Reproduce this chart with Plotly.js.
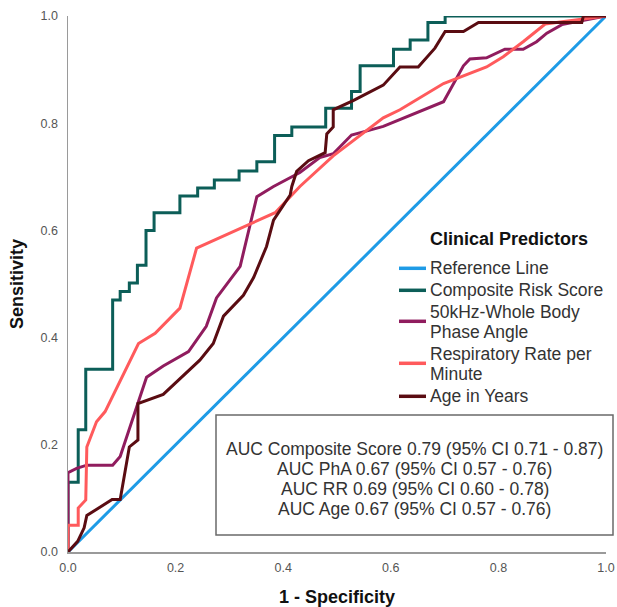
<!DOCTYPE html>
<html>
<head>
<meta charset="utf-8">
<script src="https://cdn.plot.ly/plotly-3.0.1.min.js"></script>
<style>html,body{margin:0;padding:0;background:#fff;}#chart{width:617px;height:607px;}</style>
</head>
<body>
<div id="chart"></div>
<script>
// Reference line
const refX = [0, 1];
const refY = [0, 1];

// Composite Risk Score
const compX = [0,0,0.019,0.019,0.033,0.033,0.083,0.083,0.097,0.097,0.114,0.114,0.129,0.129,0.145,0.145,0.160,0.160,0.208,0.208,0.241,0.241,0.272,0.272,0.318,0.318,0.351,0.351,0.384,0.384,0.416,0.416,0.479,0.479,0.527,0.527,0.543,0.543,0.605,0.605,0.636,0.636,0.669,0.669,0.701,0.701,1];
const compY = [0,0.13,0.13,0.228,0.228,0.341,0.341,0.47,0.47,0.486,0.486,0.502,0.502,0.535,0.535,0.60,0.60,0.633,0.633,0.664,0.664,0.679,0.679,0.694,0.694,0.711,0.711,0.728,0.728,0.777,0.777,0.793,0.793,0.828,0.828,0.859,0.859,0.907,0.907,0.938,0.938,0.955,0.955,0.988,0.988,1.0,1.0];

// 50kHz-Whole Body Phase Angle
const phaX = [0,0,0.016,0.035,0.083,0.097,0.146,0.177,0.224,0.257,0.276,0.32,0.351,0.382,0.431,0.468,0.493,0.527,0.561,0.586,0.698,0.735,0.747,0.778,0.812,0.846,0.871,0.89,0.918,1];
const phaY = [0,0.148,0.156,0.162,0.162,0.178,0.326,0.347,0.374,0.421,0.474,0.533,0.663,0.682,0.708,0.736,0.743,0.778,0.787,0.794,0.84,0.907,0.92,0.922,0.938,0.938,0.952,0.968,0.984,1];

// Respiratory Rate per Minute
const rrX = [0,0,0.019,0.019,0.033,0.035,0.053,0.069,0.131,0.162,0.208,0.239,0.385,0.431,0.493,0.555,0.586,0.617,0.698,0.778,0.809,0.846,0.887,1];
const rrY = [0,0.05,0.05,0.082,0.097,0.196,0.243,0.262,0.389,0.408,0.455,0.567,0.633,0.682,0.739,0.787,0.81,0.825,0.874,0.905,0.924,0.952,0.985,1];

// Age in Years
const ageX = [0,0.018,0.03,0.035,0.082,0.097,0.114,0.13,0.13,0.177,0.245,0.27,0.289,0.326,0.345,0.369,0.382,0.413,0.416,0.425,0.447,0.478,0.481,0.493,0.493,0.53,0.586,0.617,0.651,0.682,0.701,0.735,0.763,0.955,0.958,1];
const ageY = [0,0.02,0.045,0.068,0.098,0.098,0.196,0.209,0.277,0.294,0.358,0.389,0.44,0.479,0.512,0.570,0.619,0.666,0.682,0.71,0.73,0.745,0.78,0.793,0.825,0.842,0.871,0.905,0.905,0.94,0.971,0.971,0.988,0.988,1.0,1];

const seriesNames = ["Reference Line","Composite Risk Score","50kHz-Whole Body<br>Phase Angle","Respiratory Rate per<br>Minute","Age in Years"];
const legendTitle = "Clinical Predictors";
const aucLines = [
  "AUC Composite Score 0.79 (95% CI 0.71 - 0.87)",
  "AUC PhA 0.67 (95% CI 0.57 - 0.76)",
  "AUC RR 0.69 (95% CI 0.60 - 0.78)",
  "AUC Age 0.67 (95% CI 0.57 - 0.76)"
];
const tickVals = [0, 0.2, 0.4, 0.6, 0.8, 1.0];
const tickText = ["0.0","0.2","0.4","0.6","0.8","1.0"];

const colors = ["#1e9be6","#0c5e58","#901c5e","#ff5a5c","#5a0c12"];
const xs = [refX, compX, phaX, rrX, ageX];
const ys = [refY, compY, phaY, rrY, ageY];

const traces = xs.map((x, i) => ({
  x: x, y: ys[i], type: "scatter", mode: "lines",
  name: seriesNames[i],
  line: {color: colors[i], width: 3},
  hoverinfo: "skip"
}));

const font = "Liberation Sans, Arial, sans-serif";
const W = 617, H = 607, M = {l: 68, r: 11, t: 16, b: 55};
const PW = W - M.l - M.r, PH = H - M.t - M.b;
const px2x = p => (p - M.l) / PW;
const py2y = p => (H - M.b - p) / PH;
const TXT = 17.5;

const shapes = [{
  type: "rect", xref: "paper", yref: "paper",
  x0: px2x(216), x1: px2x(613), y0: py2y(535), y1: py2y(415),
  line: {color: "#6a6a6a", width: 1.5}, fillcolor: "rgba(0,0,0,0)"
}];
const annotations = [];

// AUC text lines (tight SPSS line spacing)
const aucStep = 20, aucMid = 479.2;
aucLines.forEach((t, i) => annotations.push({
  xref: "paper", yref: "paper", x: px2x(414.5),
  y: py2y(aucMid + (i - (aucLines.length - 1) / 2) * aucStep),
  xanchor: "center", yanchor: "middle", showarrow: false, borderpad: 0,
  text: t, font: {family: font, size: TXT, color: "#333"}
}));

// Legend (drawn to reproduce SPSS spacing)
annotations.push({
  xref: "paper", yref: "paper", x: px2x(429), y: py2y(238.5),
  xanchor: "left", yanchor: "middle", showarrow: false, borderpad: 0,
  text: "<b>" + legendTitle + "</b>", font: {family: font, size: 18, color: "#111"}
});
let yCur = 268.3;
const rowGap = 22, lineGap = 20;
seriesNames.forEach((name, i) => {
  const parts = name.split("<br>");
  const first = yCur;
  parts.forEach((p, j) => {
    annotations.push({
      xref: "paper", yref: "paper", x: px2x(429), y: py2y(yCur),
      xanchor: "left", yanchor: "middle", showarrow: false, borderpad: 0,
      text: p, font: {family: font, size: TXT, color: "#333"}
    });
    if (j < parts.length - 1) yCur += lineGap;
  });
  const mid = (first + yCur) / 2 - (parts.length > 1 ? 1 : 0);
  shapes.push({
    type: "line", xref: "paper", yref: "paper",
    x0: px2x(399), x1: px2x(426), y0: py2y(mid), y1: py2y(mid),
    line: {color: colors[i], width: 3.5}
  });
  yCur += rowGap;
});

const layout = {
  width: W, height: H,
  margin: M,
  paper_bgcolor: "#fff", plot_bgcolor: "#fff",
  font: {family: font, color: "#333"},
  showlegend: false,
  xaxis: {
    range: [0, 1], tickvals: tickVals, ticktext: tickText,
    showgrid: false, zeroline: false, showline: true, linecolor: "#9a9a9a", linewidth: 1.5,
    ticks: "", ticklabelstandoff: 3, tickfont: {family: font, size: 12.5, color: "#555"},
    title: {text: "<b>1 - Specificity</b>", font: {family: font, size: 18, color: "#111"}, standoff: 20},
    fixedrange: true
  },
  yaxis: {
    range: [0, 1], tickvals: tickVals, ticktext: tickText,
    showgrid: false, zeroline: false, showline: true, linecolor: "#9a9a9a", linewidth: 1.5,
    ticks: "", ticklabelstandoff: 6, tickfont: {family: font, size: 12.5, color: "#555"},
    title: {text: "<b>Sensitivity</b>", font: {family: font, size: 18, color: "#111"}, standoff: 12},
    fixedrange: true
  },
  shapes: shapes,
  annotations: annotations
};

Plotly.newPlot("chart", traces, layout, {displayModeBar: false, staticPlot: true});
</script>
</body>
</html>
